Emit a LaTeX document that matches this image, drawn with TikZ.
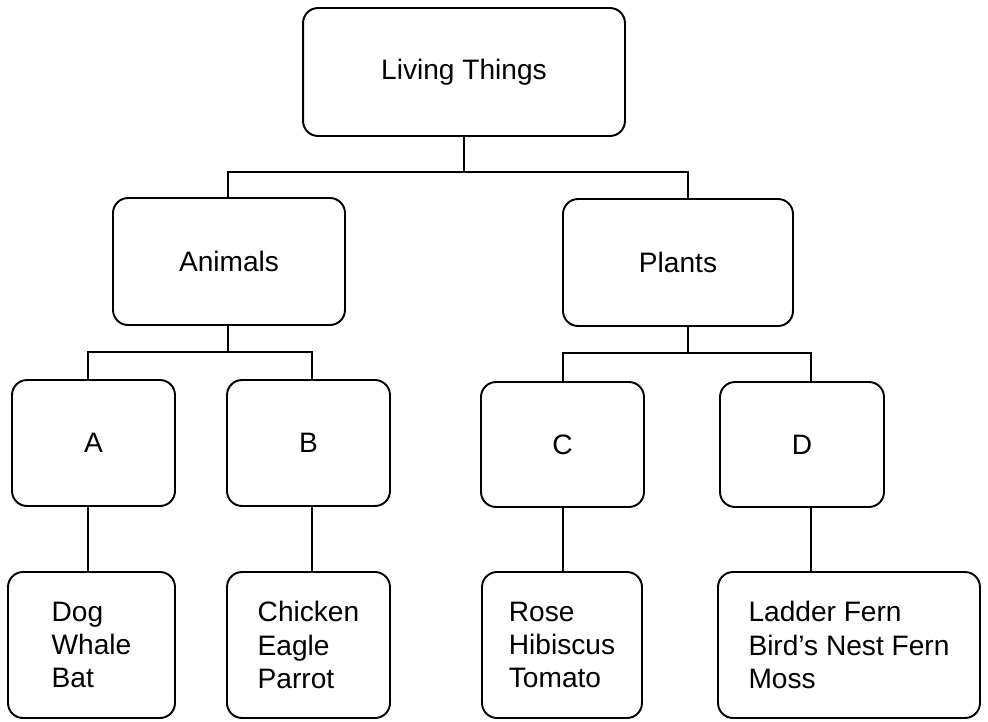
\documentclass[tikz,border=0pt]{standalone}
\usepackage{fontspec}
\setmainfont{Liberation Sans}
\usepackage{tikz}

\begin{document}
\begin{tikzpicture}[x=0.02cm,y=-0.02cm,line width=1.1pt,
    box/.style={draw,rounded corners=0.3cm,align=center,inner sep=0pt,
      font=\fontsize{16}{19}\selectfont},
    list/.style={box,align=left,minimum height=2.92cm}]
    \useasboundingbox (0,0) rectangle (988,721);
    % top level and the two groups
    \node[box,minimum width=6.44cm,minimum height=2.56cm] (living) at (464,72) {Living Things};
    \node[box,minimum width=4.64cm,minimum height=2.54cm] (animals) at (229,261.5) {Animals};
    \node[box,minimum width=4.60cm,minimum height=2.54cm] (plants) at (678,262.5) {Plants};
    % the four unnamed groups
    \node[box,minimum width=3.26cm,minimum height=2.52cm] (A) at (93.5,443) {A};
    \node[box,minimum width=3.26cm,minimum height=2.52cm] (B) at (308.5,443) {B};
    \node[box,minimum width=3.26cm,minimum height=2.50cm] (C) at (562.5,444.5) {C};
    \node[box,minimum width=3.28cm,minimum height=2.50cm] (D) at (802,444.5) {D};
    % members
    \node[list,minimum width=3.34cm] (dog) at (91.5,645) {Dog\\Whale\\Bat};
    \node[list,minimum width=3.26cm] (chicken) at (308.5,645) {Chicken\\Eagle\\Parrot};
    \node[list,minimum width=3.20cm] (rose) at (562,645) {Rose\\Hibiscus\\Tomato};
    \node[list,minimum width=5.24cm] (ladder) at (849,645) {Ladder Fern\\Bird's Nest Fern\\Moss};
    % bus corners
    \coordinate (tl) at (228,172); \coordinate (tr) at (688,172);
    \coordinate (al) at (88,352);  \coordinate (ar) at (312,352);
    \coordinate (pl) at (563,353); \coordinate (pr) at (811,353);
    % connectors
    \draw (living.south) -- (living.south |- tl);
    \draw (animals.north -| tl) |- (tr) -- (plants.north -| tr);
    \draw (animals.south -| tl) -- (tl |- al);
    \draw (A.north -| al) |- (ar) -- (B.north -| ar);
    \draw (plants.south -| tr) -- (tr |- pl);
    \draw (C.north -| pl) |- (pr) -- (D.north -| pr);
    \draw (A.south -| al) -- (dog.north -| al);
    \draw (B.south -| ar) -- (chicken.north -| ar);
    \draw (C.south -| pl) -- (rose.north -| pl);
    \draw (D.south -| pr) -- (ladder.north -| pr);
  \end{tikzpicture}
\end{document}
